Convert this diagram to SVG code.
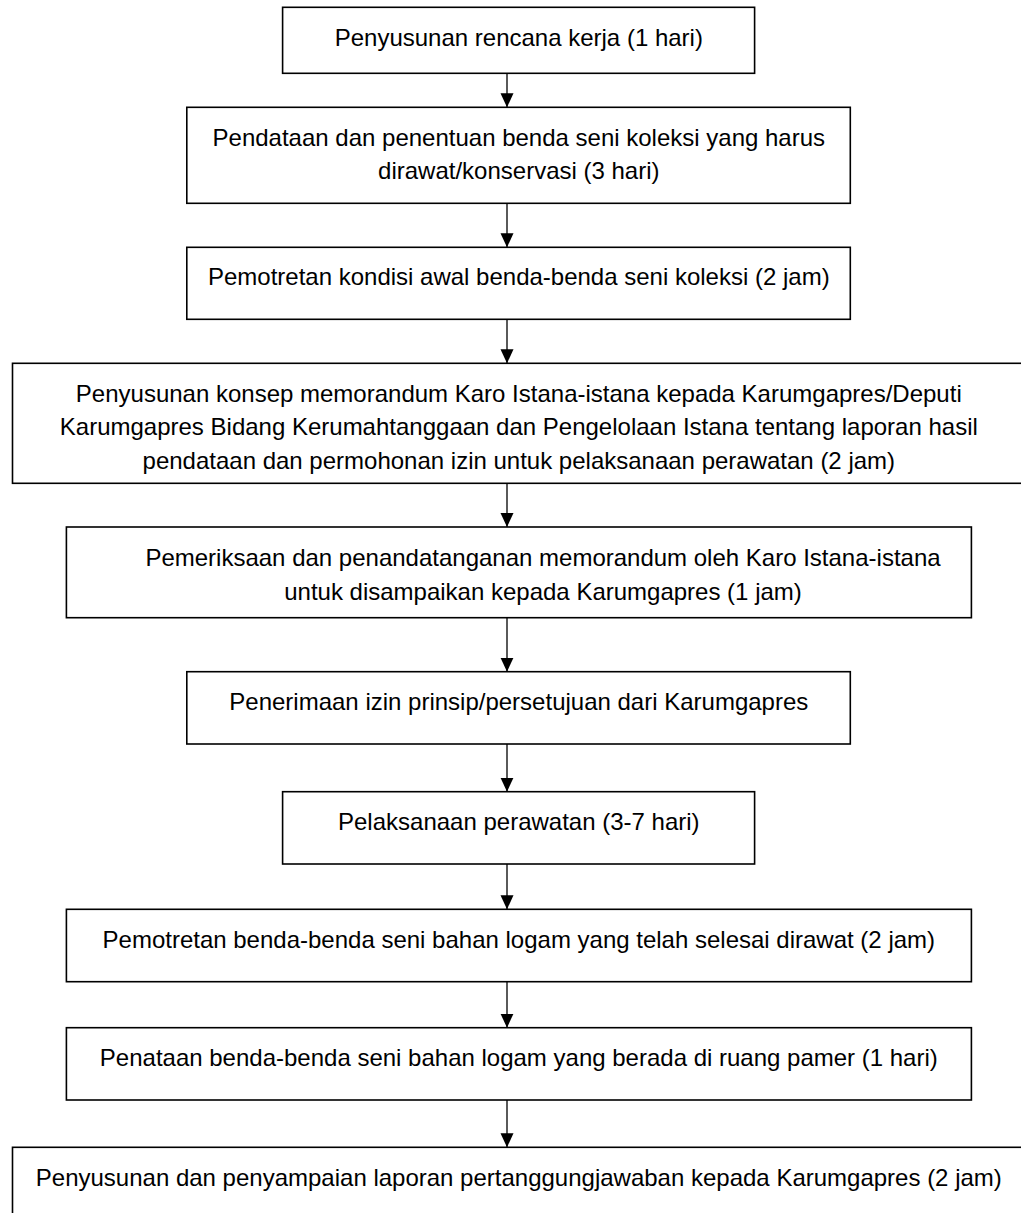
<svg xmlns="http://www.w3.org/2000/svg" width="1021" height="1213" viewBox="0 0 1021 1213">
<style>
.box{fill:#fff;stroke:#000;stroke-width:1.6}
.t{font-family:"Liberation Sans",Arial,sans-serif;font-size:24px;fill:#000;text-anchor:middle}
.c{stroke:#000;stroke-width:1.3;fill:none;marker-end:url(#ah)}
</style>
<defs>
<marker id="ah" markerUnits="userSpaceOnUse" markerWidth="14" markerHeight="14" refX="14" refY="6.5" orient="auto" viewBox="0 0 14 13">
<path d="M0,0 L14,6.5 L0,13 z" fill="#000"/>
</marker>
</defs>
<rect width="1021" height="1213" fill="#fff"/>
<g id="connectors">
<line class="c" x1="507" y1="73.3" x2="507" y2="107.3"/>
<line class="c" x1="507" y1="203.3" x2="507" y2="247.3"/>
<line class="c" x1="507" y1="319.3" x2="507" y2="363.3"/>
<line class="c" x1="507" y1="483.3" x2="507" y2="527"/>
<line class="c" x1="507" y1="617.7" x2="507" y2="671.7"/>
<line class="c" x1="507" y1="744" x2="507" y2="791.7"/>
<line class="c" x1="507" y1="864" x2="507" y2="909.3"/>
<line class="c" x1="507" y1="981.7" x2="507" y2="1027.7"/>
<line class="c" x1="507" y1="1100" x2="507" y2="1147.3"/>
</g>
<g id="n1">
<rect class="box" x="282.6" y="7.3" width="472" height="66"/>
<text class="t" x="518.8" y="46">Penyusunan rencana kerja (1 hari)</text>
</g>
<g id="n2">
<rect class="box" x="186.8" y="107.3" width="663.5" height="96"/>
<text class="t" x="518.8" y="146">Pendataan dan penentuan benda seni koleksi yang harus</text>
<text class="t" x="518.8" y="178.8">dirawat/konservasi (3 hari)</text>
</g>
<g id="n3">
<rect class="box" x="186.8" y="247.3" width="663.5" height="72"/>
<text class="t" x="518.8" y="285.3">Pemotretan kondisi awal benda-benda seni koleksi (2 jam)</text>
</g>
<g id="n4">
<rect class="box" x="12.5" y="363.3" width="1015" height="120"/>
<text class="t" x="518.8" y="401.5">Penyusunan konsep memorandum Karo Istana-istana kepada Karumgapres/Deputi</text>
<text class="t" x="518.8" y="435.2">Karumgapres Bidang Kerumahtanggaan dan Pengelolaan Istana tentang laporan hasil</text>
<text class="t" x="518.8" y="468.9">pendataan dan permohonan izin untuk pelaksanaan perawatan (2 jam)</text>
</g>
<g id="n5">
<rect class="box" x="66.4" y="527" width="905" height="90.7"/>
<text class="t" x="543" y="566">Pemeriksaan dan penandatanganan memorandum oleh Karo Istana-istana</text>
<text class="t" x="543" y="600">untuk disampaikan kepada Karumgapres (1 jam)</text>
</g>
<g id="n6">
<rect class="box" x="186.8" y="671.7" width="663.5" height="72.3"/>
<text class="t" x="518.8" y="709.5">Penerimaan izin prinsip/persetujuan dari Karumgapres</text>
</g>
<g id="n7">
<rect class="box" x="282.6" y="791.7" width="472" height="72.3"/>
<text class="t" x="518.8" y="829.5">Pelaksanaan perawatan (3-7 hari)</text>
</g>
<g id="n8">
<rect class="box" x="66.4" y="909.3" width="905" height="72.4"/>
<text class="t" x="518.8" y="947.5">Pemotretan benda-benda seni bahan logam yang telah selesai dirawat (2 jam)</text>
</g>
<g id="n9">
<rect class="box" x="66.4" y="1027.7" width="905" height="72.3"/>
<text class="t" x="518.8" y="1065.8">Penataan benda-benda seni bahan logam yang berada di ruang pamer (1 hari)</text>
</g>
<g id="n10">
<rect class="box" x="12.5" y="1147.3" width="1015" height="90"/>
<text class="t" x="518.8" y="1186">Penyusunan dan penyampaian laporan pertanggungjawaban kepada Karumgapres (2 jam)</text>
</g>
</svg>
